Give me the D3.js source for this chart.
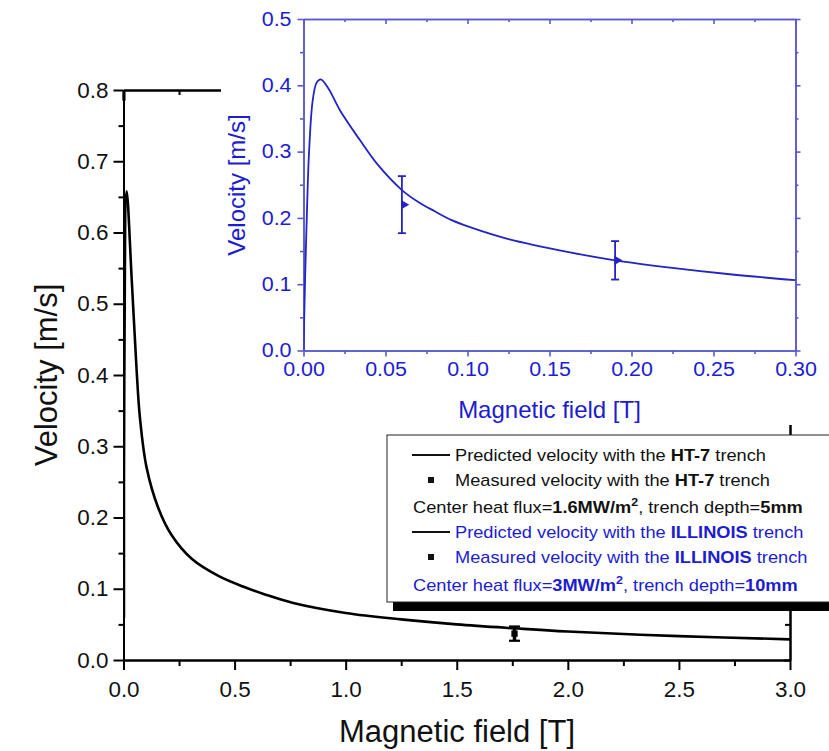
<!DOCTYPE html>
<html><head><meta charset="utf-8">
<script src="https://cdn.jsdelivr.net/npm/d3@7"></script>
<style>
body{margin:0;background:#fff}
svg{display:block}
text{font-family:"Liberation Sans",Arial,Helvetica,sans-serif}
</style></head>
<body><svg id="chart" width="829" height="751"></svg>
<script>
// ---------------- data ----------------
// Main plot: predicted velocity, HT-7 trench (B [T], v [m/s])
const ht7B = [0.002, 0.0036, 0.0144, 0.037, 0.059, 0.074, 0.104, 0.157, 0.217, 0.307, 0.427, 0.547, 0.637, 0.764, 1.0, 1.25, 1.5, 1.76, 2.0, 2.5, 3.0];
const ht7V = [0.059, 0.393, 0.658, 0.534, 0.407, 0.340, 0.270, 0.213, 0.175, 0.142, 0.118, 0.102, 0.092, 0.080, 0.066, 0.057, 0.050, 0.0445, 0.040, 0.0335, 0.029];
// short trace near the top of the axis (B, v)
const ht7StubB = [0.002, 0.002];
const ht7StubV = [0.785, 0.8];
// Main plot: measured velocity, HT-7 trench
const ht7MeasB = [1.76];
const ht7MeasV = [0.037];
const ht7MeasLo = [0.027];
const ht7MeasHi = [0.047];
// Inset: predicted velocity, ILLINOIS trench
const illB = [0, 0.001, 0.0023, 0.0034, 0.0056, 0.0080, 0.0105, 0.015, 0.0223, 0.0345, 0.045, 0.06, 0.07, 0.08, 0.09, 0.1015, 0.125, 0.1625, 0.19, 0.2235, 0.26, 0.30];
const illV = [0, 0.11, 0.226, 0.300, 0.377, 0.404, 0.409, 0.396, 0.362, 0.317, 0.281, 0.242, 0.224, 0.210, 0.197, 0.186, 0.168, 0.148, 0.136, 0.125, 0.115, 0.106];
// Inset: measured velocity, ILLINOIS trench
const illMeasB = [0.06, 0.19];
const illMeasV = [0.220, 0.136];
const illMeasLo = [0.177, 0.107];
const illMeasHi = [0.263, 0.165];
// Tick values
const mainXMajor = [0, 0.5, 1.0, 1.5, 2.0, 2.5, 3.0];
const mainXMinor = [0.25, 0.75, 1.25, 1.75, 2.25, 2.75];
const mainYMajor = [0, 0.1, 0.2, 0.3, 0.4, 0.5, 0.6, 0.7, 0.8];
const mainYMinor = [0.05, 0.15, 0.25, 0.35, 0.45, 0.55, 0.65, 0.75];
const insXMajor = [0, 0.05, 0.10, 0.15, 0.20, 0.25, 0.30];
const insXMinor = [0.025, 0.075, 0.125, 0.175, 0.225, 0.275];
const insYMajor = [0, 0.1, 0.2, 0.3, 0.4, 0.5];
const insYMinor = [0.05, 0.15, 0.25, 0.35, 0.45];
// Texts
const mainXTitle = "Magnetic field [T]";
const mainYTitle = "Velocity [m/s]";
const insXTitle = "Magnetic field [T]";
const insYTitle = "Velocity [m/s]";

// ---------------- drawing ----------------
const svg = d3.select("#chart");
const BLUE_AX = "#5a5acc", BLUE_LN = "#2424c4", BLUE_TX = "#1c1cd2";

const mx = d3.scaleLinear([0, 3], [123.5, 790]);
const my = d3.scaleLinear([0, 0.8], [660, 90]);
const ix = d3.scaleLinear([0, 0.3], [303.5, 795.5]);
const iy = d3.scaleLinear([0, 0.5], [350.5, 19]);

function styleAxis(g, color, width) {
  g.selectAll("path.domain").attr("stroke", color).attr("stroke-width", width);
  g.selectAll(".tick line").attr("stroke", color).attr("stroke-width", width);
}
function addAxis(parent, axis, tx, ty, color, width) {
  const g = parent.append("g").attr("transform", `translate(${tx},${ty})`).call(axis);
  styleAxis(g, color, width);
  return g;
}
function labelTexts(g, size, color, sx, kind, off) {
  g.selectAll(".tick text")
    .attr("font-size", size).attr("fill", color)
    .attr("font-family", "Liberation Sans, Arial, sans-serif");
  if (kind === "left") {
    g.selectAll(".tick text").attr("x", -off / sx).attr("transform", `scale(${sx},1)`);
  } else {
    g.selectAll(".tick text").attr("y", off).attr("dy", "0.72em").attr("transform", `scale(${sx},1)`);
  }
}

// ---- main plot ----
const main = svg.append("g");
svg.append("defs").append("clipPath").attr("id", "mclip")
  .append("rect").attr("x", mx(0)).attr("y", my(0.8)).attr("width", mx(3) - mx(0)).attr("height", my(0) - my(0.8));

const mL = addAxis(main, d3.axisLeft(my).tickValues(mainYMajor).tickSize(10).tickSizeOuter(0).tickFormat(d3.format(".1f")), mx(0), 0, "#000", 2);
labelTexts(mL, 22, "#111", 1.02, "left", 15);
addAxis(main, d3.axisLeft(my).tickValues(mainYMinor).tickSize(5).tickSizeOuter(0).tickFormat(""), mx(0), 0, "#000", 2);
const mB = addAxis(main, d3.axisBottom(mx).tickValues(mainXMajor).tickSize(10).tickSizeOuter(0).tickFormat(d3.format(".1f")), 0, my(0), "#000", 2);
labelTexts(mB, 22, "#111", 1.02, "bottom", 21);
addAxis(main, d3.axisBottom(mx).tickValues(mainXMinor).tickSize(6).tickSizeOuter(0).tickFormat(""), 0, my(0), "#000", 2);
// top (ticks inward)
addAxis(main, d3.axisBottom(mx).tickValues(mainXMajor).tickSize(6).tickSizeOuter(0).tickFormat(""), 0, my(0.8), "#000", 2);
addAxis(main, d3.axisBottom(mx).tickValues(mainXMinor).tickSize(5).tickSizeOuter(0).tickFormat(""), 0, my(0.8), "#000", 2);
// right (ticks inward)
addAxis(main, d3.axisLeft(my).tickValues(mainYMajor).tickSize(6).tickSizeOuter(0).tickFormat(""), mx(3), 0, "#000", 2);
addAxis(main, d3.axisLeft(my).tickValues(mainYMinor).tickSize(5).tickSizeOuter(0).tickFormat(""), mx(3), 0, "#000", 2);

// curve
const lineMain = d3.line().curve(d3.curveCatmullRom.alpha(0.5)).x(d => mx(d[0])).y(d => my(d[1]));
const ht7 = ht7B.map((b, i) => [b, ht7V[i]]);
main.append("path").datum(ht7).attr("clip-path", "url(#mclip)")
  .attr("fill", "none").attr("stroke", "#000").attr("stroke-width", 2.6).attr("stroke-linejoin", "round")
  .attr("d", lineMain);
main.append("path").datum(ht7StubB.map((b, i) => [b, ht7StubV[i]]))
  .attr("fill", "none").attr("stroke", "#000").attr("stroke-width", 3.2)
  .attr("d", d3.line().x(d => mx(d[0])).y(d => my(d[1])));

// measured HT-7
ht7MeasB.forEach((b, i) => {
  const x = mx(b);
  main.append("line").attr("x1", x).attr("x2", x).attr("y1", my(ht7MeasLo[i])).attr("y2", my(ht7MeasHi[i]))
    .attr("stroke", "#000").attr("stroke-width", 3.5);
  [ht7MeasLo[i], ht7MeasHi[i]].forEach(v => main.append("line").attr("x1", x - 5.5).attr("x2", x + 5.5)
    .attr("y1", my(v)).attr("y2", my(v)).attr("stroke", "#000").attr("stroke-width", 2.2));
  main.append("path").attr("d", d3.symbol(d3.symbolSquare, 40)())
    .attr("transform", `translate(${x},${my(ht7MeasV[i])})`).attr("fill", "#000");
});

// main titles
svg.append("text").attr("transform", `translate(457,742)`).attr("text-anchor", "middle")
  .attr("font-size", 31).attr("fill", "#111").text(mainXTitle);
svg.append("text").attr("transform", `translate(57,375) rotate(-90)`).attr("text-anchor", "middle")
  .attr("font-size", 31).attr("fill", "#111").text(mainYTitle);

// ---- inset ----
const ins = svg.append("g");
ins.append("rect").attr("x", 221).attr("y", 0).attr("width", 608).attr("height", 425).attr("fill", "#fff");
svg.select("defs").append("clipPath").attr("id", "iclip")
  .append("rect").attr("x", ix(0)).attr("y", iy(0.5)).attr("width", ix(0.3) - ix(0)).attr("height", iy(0) - iy(0.5));

const iL = addAxis(ins, d3.axisLeft(iy).tickValues(insYMajor).tickSize(6).tickSizeOuter(0).tickFormat(d3.format(".1f")), ix(0), 0, BLUE_AX, 1.6);
labelTexts(iL, 19.5, BLUE_TX, 1.1, "left", 12);
addAxis(ins, d3.axisLeft(iy).tickValues(insYMinor).tickSize(3.5).tickSizeOuter(0).tickFormat(""), ix(0), 0, BLUE_AX, 1.6);
const iB = addAxis(ins, d3.axisBottom(ix).tickValues(insXMajor).tickSize(6).tickSizeOuter(0).tickFormat(d3.format(".2f")), 0, iy(0), BLUE_AX, 1.6);
labelTexts(iB, 19.5, BLUE_TX, 1.1, "bottom", 11);
addAxis(ins, d3.axisBottom(ix).tickValues(insXMinor).tickSize(3.5).tickSizeOuter(0).tickFormat(""), 0, iy(0), BLUE_AX, 1.6);
// top (inward)
addAxis(ins, d3.axisBottom(ix).tickValues(insXMajor).tickSize(5).tickSizeOuter(0).tickFormat(""), 0, iy(0.5), BLUE_AX, 1.6);
addAxis(ins, d3.axisBottom(ix).tickValues(insXMinor).tickSize(3).tickSizeOuter(0).tickFormat(""), 0, iy(0.5), BLUE_AX, 1.6);
// right (outward)
addAxis(ins, d3.axisRight(iy).tickValues(insYMajor).tickSize(5).tickSizeOuter(0).tickFormat(""), ix(0.3), 0, BLUE_AX, 1.6);
addAxis(ins, d3.axisRight(iy).tickValues(insYMinor).tickSize(3).tickSizeOuter(0).tickFormat(""), ix(0.3), 0, BLUE_AX, 1.6);

const ill = illB.map((b, i) => [b, illV[i]]);
ins.append("path").datum(ill).attr("clip-path", "url(#iclip)")
  .attr("fill", "none").attr("stroke", BLUE_LN).attr("stroke-width", 1.8).attr("stroke-linejoin", "round")
  .attr("d", d3.line().curve(d3.curveCatmullRom.alpha(0.5)).x(d => ix(d[0])).y(d => iy(d[1])));

illMeasB.forEach((b, i) => {
  const x = ix(b);
  ins.append("line").attr("x1", x).attr("x2", x).attr("y1", iy(illMeasLo[i])).attr("y2", iy(illMeasHi[i]))
    .attr("stroke", BLUE_LN).attr("stroke-width", 1.8);
  [illMeasLo[i], illMeasHi[i]].forEach(v => ins.append("line").attr("x1", x - 4).attr("x2", x + 4)
    .attr("y1", iy(v)).attr("y2", iy(v)).attr("stroke", BLUE_LN).attr("stroke-width", 1.8));
  ins.append("path").attr("d", d3.symbol(d3.symbolTriangle, 38)())
    .attr("transform", `translate(${x + 2},${iy(illMeasV[i])}) rotate(90)`).attr("fill", BLUE_LN);
});

ins.append("text").attr("transform", `translate(549.5,418)`).attr("text-anchor", "middle")
  .attr("font-size", 24).attr("fill", BLUE_TX).text(insXTitle);
ins.append("text").attr("transform", `translate(245,185) rotate(-90)`).attr("text-anchor", "middle")
  .attr("font-size", 24).attr("fill", BLUE_TX).text(insYTitle);

// ---- legend ----
const leg = svg.append("g");
leg.append("rect").attr("x", 393).attr("y", 444).attr("width", 460).attr("height", 167).attr("fill", "#000");
leg.append("rect").attr("x", 387).attr("y", 435).attr("width", 460).attr("height", 167)
  .attr("fill", "#fff").attr("stroke", "#222").attr("stroke-width", 1);

const LS = 16, LSX = 1.14;
const legendRows = [
  {y: 455, kind: "line", color: "#111", parts: [["Predicted velocity with the ", false], ["HT-7", true], [" trench", false]]},
  {y: 480, kind: "square", color: "#111", parts: [["Measured velocity with the ", false], ["HT-7", true], [" trench", false]]},
  {y: 507, kind: "none", color: "#111", parts: [["Center heat flux=", false], ["1.6MW/m", true], ["2", true, true], [", trench depth=", false], ["5mm", true]]},
  {y: 532, kind: "line", color: BLUE_TX, parts: [["Predicted velocity with the ", false], ["ILLINOIS", true], [" trench", false]]},
  {y: 557, kind: "square", color: BLUE_TX, parts: [["Measured velocity with the ", false], ["ILLINOIS", true], [" trench", false]]},
  {y: 585, kind: "none", color: BLUE_TX, parts: [["Center heat flux=", false], ["3MW/m", true], ["2", true, true], [", trench depth=", false], ["10mm", true]]}
];
legendRows.forEach(r => {
  if (r.kind === "line") {
    leg.append("line").attr("x1", 412).attr("x2", 450).attr("y1", r.y).attr("y2", r.y)
      .attr("stroke", "#111").attr("stroke-width", 2.2);
  } else if (r.kind === "square") {
    leg.append("rect").attr("x", 428).attr("y", r.y - 3).attr("width", 6).attr("height", 6).attr("fill", "#111");
  }
  const tx = r.kind === "none" ? 413 : 455;
  const t = leg.append("text").attr("transform", `translate(${tx},${r.y + 5.7}) scale(${LSX},1)`)
    .attr("font-size", LS).attr("fill", r.color);
  r.parts.forEach((p, k) => {
    const ts = t.append("tspan").text(p[0]).attr("font-weight", p[1] ? "bold" : "normal");
    if (p[2]) ts.attr("font-size", LS * 0.68).attr("dy", -7);
    else if (k > 0 && r.parts[k - 1][2]) ts.attr("dy", 7);
  });
});
</script></body></html>
